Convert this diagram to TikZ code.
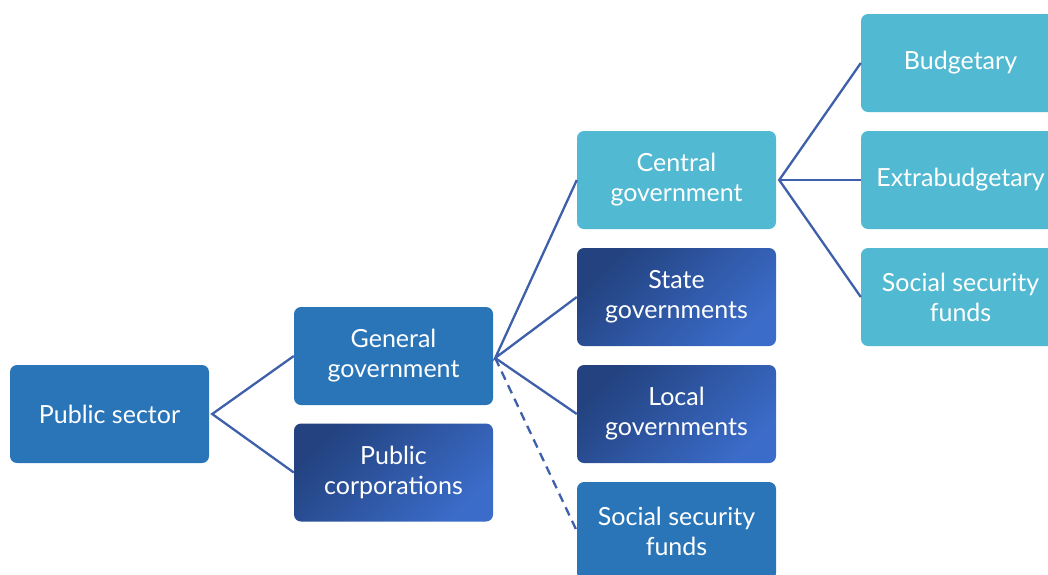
\documentclass[tikz,border=0pt]{standalone}
\usepackage{fontspec}
\setmainfont{Lato}
\definecolor{midblue}{HTML}{2A75B8}
\definecolor{darkA}{HTML}{23427F}
\definecolor{darkB}{HTML}{3B6CC9}
\definecolor{cyanbox}{HTML}{51B9D1}
\definecolor{linecol}{HTML}{3E60AA}
\begin{document}
\begin{tikzpicture}[x=1pt,y=-1pt,
  box/.style={rounded corners=7pt, minimum width=199pt, minimum height=98pt, inner sep=0pt,
    text=white, align=center, font=\fontsize{25}{30}\selectfont},
  midbox/.style={box, fill=midblue},
  darkbox/.style={box, top color=darkA, bottom color=darkB, shading angle=45},
  cyanb/.style={box, fill=cyanbox},
  conn/.style={draw=linecol, line width=2.3pt},
  dconn/.style={conn, dash pattern=on 9pt off 6pt}]
\useasboundingbox (0,0) rectangle (1048,574);
\clip (0,0) rectangle (1048,574);
\node[midbox] (ps) at (109.5,414) {Public sector};
\node[midbox] (gg) at (393.5,356) {General\\government};
\node[darkbox] (pc) at (393.5,472.5) {Public\\corporations};
\node[cyanb] (cg) at (676.5,180) {Central\\government};
\node[darkbox] (sg) at (676.5,297) {State\\governments};
\node[darkbox] (lg) at (676.5,414) {Local\\governments};
\node[midbox] (ssf) at (676.5,531) {Social security\\funds};
\node[cyanb] (bu) at (960.5,63) {Budgetary};
\node[cyanb] (eb) at (960.5,180) {Extrabudgetary};
\node[cyanb] (ss) at (960.5,297) {Social security\\funds};
\coordinate (psr) at ([xshift=3pt]ps.east);
\coordinate (ggr) at ([xshift=2pt,yshift=-2pt]gg.east);
\coordinate (cgr) at ([xshift=3pt]cg.east);
\draw[conn] (gg.west) -- (psr) -- (pc.west);
\draw[conn] (cg.west) -- (ggr) -- (sg.west);
\draw[conn] (ggr) -- (lg.west);
\draw[dconn] (ggr) -- (ssf.west);
\draw[conn] (bu.west) -- (cgr) -- (ss.west);
\draw[conn] (cgr) -- (eb.west);
\end{tikzpicture}
\end{document}
